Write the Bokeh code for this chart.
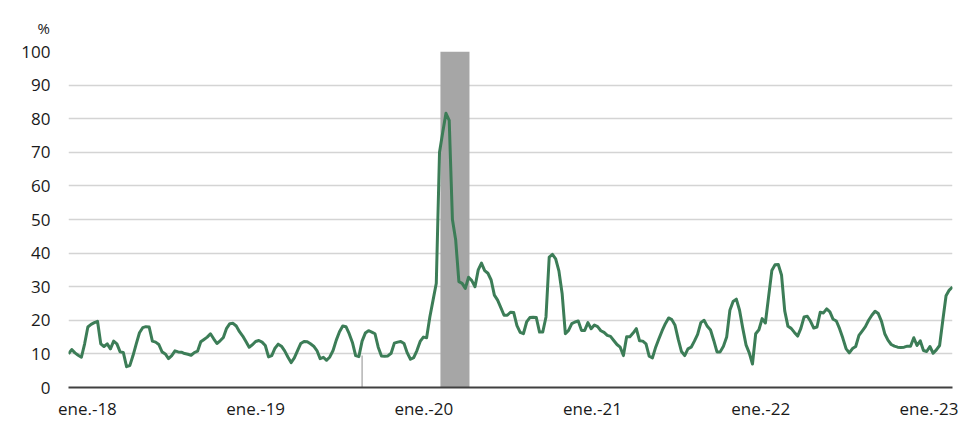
import pandas as pd
from bokeh.plotting import figure
from bokeh.models import Range1d, FixedTicker, Title, BoxAnnotation, ColumnDataSource
from bokeh.embed import file_html
from bokeh.resources import INLINE

start_date = "2017-11-21"
values = [
    10, 11.3, 10.3, 9.6, 9, 13, 18, 18.8, 19.3, 19.7,
    13, 12.2, 13, 11.5, 13.8, 13, 10.6, 10.4, 6.2, 6.5,
    9.5, 13, 16.3, 17.8, 18.1, 18, 13.8, 13.5, 12.8, 10.6,
    10, 8.6, 9.5, 10.9, 10.6, 10.5, 10.1, 9.9, 9.6, 10.4,
    10.8, 13.6, 14.3, 15, 16, 14.5, 13.1, 13.9, 14.9, 17.6,
    19, 19.1, 18.3, 16.6, 15.3, 13.7, 12, 12.7, 13.7, 14,
    13.5, 12.5, 9.1, 9.5, 11.7, 12.9, 12.3, 10.9, 9.1, 7.4,
    8.8, 11, 13.1, 13.7, 13.6, 13, 12.3, 11, 8.6, 9,
    8.1, 9.1, 11, 14.1, 16.6, 18.3, 18.1, 16, 13.4, 9.5,
    9.2, 13.8, 16.2, 16.9, 16.5, 16, 12, 9.4, 9.3, 9.4,
    10.2, 13.2, 13.5, 13.7, 13.1, 10.3, 8.4, 8.9, 11, 13.7,
    15, 14.8, 21, 26, 31, 70, 76, 81.6, 79.5, 50,
    44, 31.5, 31, 29.5, 32.8, 31.8, 30, 35, 37, 34.8,
    34, 32, 27.5, 26, 23.8, 21.5, 21.5, 22.4, 22.3, 18.4,
    16.4, 16, 19.5, 20.8, 20.9, 20.8, 16.5, 16.5, 21, 38.8,
    39.6, 38.3, 34.7, 28, 16, 17, 19, 19.5, 19.8, 17,
    17, 19.3, 17.5, 18.6, 18.1, 16.9, 16.4, 15.5, 15.2, 14,
    12.8, 12, 9.5, 15.1, 15.1, 16.2, 17.5, 13.9, 13.8, 13,
    9.3, 8.8, 12, 14.5, 16.9, 19, 20.7, 20.2, 18.5, 14.3,
    10.7, 9.5, 11.5, 12, 13.8, 15.8, 19.3, 20, 18.2, 17.1,
    14, 10.6, 10.6, 12.3, 15, 23, 25.6, 26.3, 23, 17.6,
    12.7, 10.3, 7, 16, 17.2, 20.5, 19.2, 27, 34.8, 36.5,
    36.6, 33.5, 22.8, 18.2, 17.6, 16.4, 15.3, 17.6, 21, 21.2,
    19.7, 17.7, 18, 22.4, 22.2, 23.4, 22.5, 20.3, 19.8, 17.5,
    14.7, 11.6, 10.3, 11.6, 12.2, 15.5, 16.8, 18.1, 20, 21.5,
    22.7, 22, 19.7, 16, 14.1, 12.8, 12.3, 12, 11.9, 12,
    12.3, 12.3, 14.8, 12.5, 13.9, 11, 10.7, 12.2, 10.2, 11.2,
    12.5, 20, 27.3, 29, 29.9,
]
dates = pd.date_range(start_date, periods=len(values), freq="7D")

shade_start = "2020-02-06"
shade_end = "2020-04-09"
marker_date = "2019-08-20"
marker_value = 9.5

tick_years = [2018, 2019, 2020, 2021, 2022, 2023]
tick_labels = ["ene.-18", "ene.-19", "ene.-20", "ene.-21", "ene.-22", "ene.-23"]
y_ticks = list(range(0, 101, 10))
unit_label = "%"

# ---- figure ----
def ms(d):
    return int(pd.Timestamp(d).value // 10**6)

p = figure(frame_width=884, frame_height=336, x_axis_type="datetime",
           x_range=Range1d(ms(dates[0]), ms(dates[-1])),
           y_range=Range1d(0, 100),
           output_backend="svg", toolbar_location=None,
           min_border_left=68, min_border_right=18,
           min_border_top=51, min_border_bottom=0)
p.outline_line_color = None
p.background_fill_color = "white"

# shaded period
p.add_layout(BoxAnnotation(left=ms(shade_start), right=ms(shade_end),
                           bottom=0, top=100, fill_color="#A6A6A6",
                           fill_alpha=1.0, line_color=None, level="underlay"))

# thin grey vertical marker
p.segment(x0=[pd.Timestamp(marker_date)], y0=[0], x1=[pd.Timestamp(marker_date)],
          y1=[marker_value], line_color="#A0A0A0", line_width=1.2)

src = ColumnDataSource(dict(x=dates, y=values))
p.line("x", "y", source=src, line_color="#3C7D57", line_width=3, line_join="round")

# axes
tick_ms = [ms(f"{y}-01-01") for y in tick_years]
p.xaxis.ticker = FixedTicker(ticks=tick_ms)
p.xaxis.major_label_overrides = {t: l for t, l in zip(tick_ms, tick_labels)}
p.xaxis.axis_line_color = "#404040"
p.xaxis.axis_line_width = 2
p.xaxis.major_tick_line_color = None
p.xaxis.minor_tick_line_color = None
p.xaxis.major_tick_in = 0
p.xaxis.major_tick_out = 0
p.xaxis.major_label_standoff = 9
p.xaxis.major_label_text_font = "Open Sans"
p.xaxis.major_label_text_font_size = "17px"
p.xaxis.major_label_text_color = "#1a1a1a"

p.yaxis.ticker = FixedTicker(ticks=y_ticks)
p.yaxis.axis_line_color = None
p.yaxis.major_tick_line_color = None
p.yaxis.minor_tick_line_color = None
p.yaxis.major_tick_out = 0
p.yaxis.major_label_standoff = 18
p.yaxis.major_label_text_font = "Open Sans"
p.yaxis.major_label_text_font_size = "17px"
p.yaxis.major_label_text_color = "#1a1a1a"

p.xgrid.grid_line_color = None
p.ygrid.grid_line_color = "#D4D4D4"
p.ygrid.grid_line_width = 1.3

title = Title(text=unit_label, align="left", offset=-31, standoff=28,
              text_font="Open Sans", text_font_size="15px",
              text_font_style="normal", text_color="#1a1a1a")
p.add_layout(title, "above")

open("out.html", "w").write(file_html(p, INLINE))
